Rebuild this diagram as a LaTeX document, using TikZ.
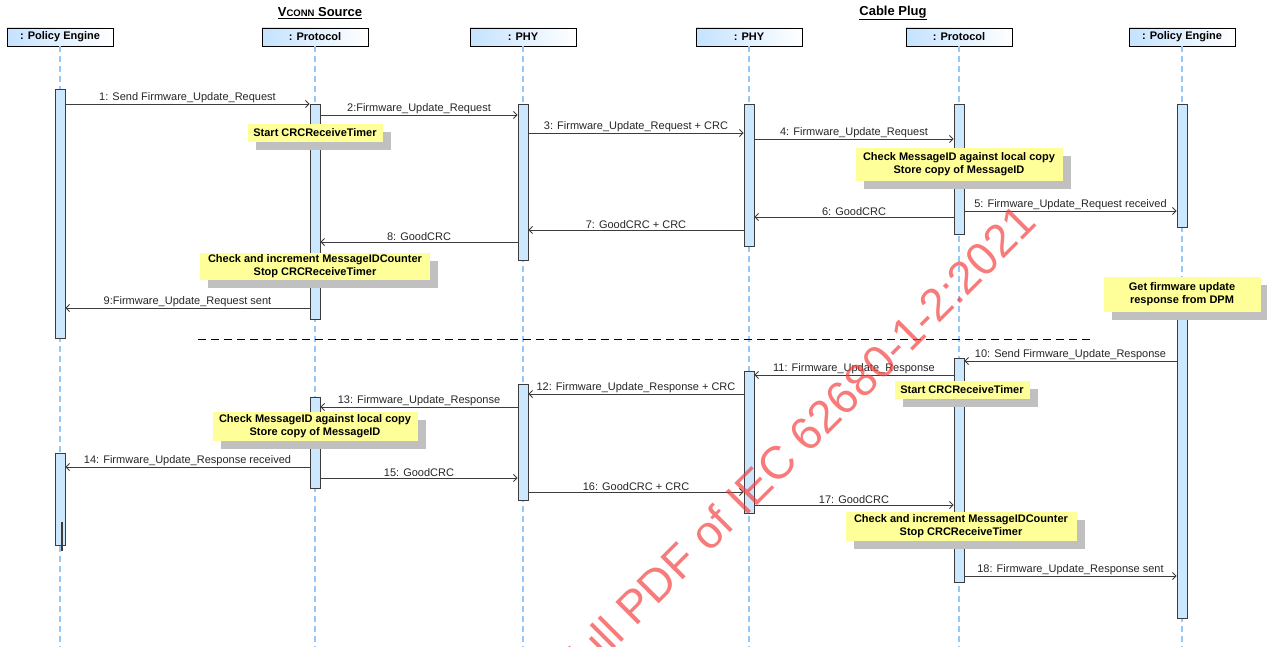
\documentclass[tikz,border=0pt]{standalone}
\usepackage{fontspec}
\setmainfont{Liberation Sans}
\usetikzlibrary{arrows.meta,shadows}
\definecolor{lifeblue}{RGB}{150,200,250}
\definecolor{barblue}{RGB}{204,232,255}
\definecolor{barline}{RGB}{60,60,60}
\definecolor{headblue}{RGB}{196,226,255}
\definecolor{notey}{RGB}{255,255,153}
\definecolor{shadowgray}{RGB}{192,192,192}
\definecolor{msgline}{RGB}{60,60,60}
\definecolor{wmred}{RGB}{245,60,60}
\begin{document}
\begin{tikzpicture}[x=1pt,y=-1pt,
  header/.style={draw=black, line width=0.9pt, left color=headblue, right color=white,
    minimum width=106pt, minimum height=18pt, inner sep=0pt,
    font=\fontsize{11}{11}\selectfont\bfseries},
  grouptitle/.style={font=\fontsize{13}{13}\selectfont\bfseries, inner sep=0pt},
  lifeline/.style={draw=lifeblue, line width=1.4pt, dash pattern=on 6pt off 4pt},
  actbar/.style={draw=barline, fill=barblue, line width=0.9pt, minimum width=10pt,
    inner sep=0pt, anchor=north},
  msg/.style={draw=msgline, line width=0.9pt,
    -{Straight Barb[length=3.5pt,width=7pt,line width=0.8pt]}},
  lbl/.style={above, inner sep=1.2pt, font=\fontsize{11}{11}\selectfont, text=black!85},
  note/.style={fill=notey, align=center, inner xsep=4pt, inner ysep=2pt,
    font=\fontsize{11}{13}\selectfont\bfseries,
    drop shadow={fill=shadowgray, opacity=1, shadow xshift=8pt, shadow yshift=-8pt}},
  separator/.style={draw=black, line width=1pt, dash pattern=on 8pt off 5pt},
  watermark/.style={rotate=45, text=wmred, text opacity=0.68, inner sep=0pt,
    font=\fontsize{46}{46}\selectfont}
]
\useasboundingbox (0,0) rectangle (1267,647);

% group titles
\node[grouptitle] (tvconn) at (320,13) {\underline{V{\fontsize{9.5}{9.5}\selectfont CONN} Source}};
\node[grouptitle] (tcable) at (893,13) {\underline{Cable Plug}};

% participant headers
\node[header] (hpe1) at (60,37)   {: Policy Engine};
\node[header] (hpr1) at (315,37)  {: Protocol};
\node[header] (hph1) at (523,37)  {: PHY};
\node[header] (hph2) at (749,37)  {: PHY};
\node[header] (hpr2) at (959,37)  {: Protocol};
\node[header] (hpe2) at (1182,37) {: Policy Engine};

% lifeline ends
\coordinate (epe1) at (60,647);
\coordinate (epr1) at (315,647);
\coordinate (eph1) at (523,647);
\coordinate (eph2) at (749,647);
\coordinate (epr2) at (959,647);
\coordinate (epe2) at (1182,647);

\foreach \h/\e in {hpe1/epe1,hpr1/epr1,hph1/eph1,hph2/eph2,hpr2/epr2,hpe2/epe2}
  \draw[lifeline] (\h.south) -- (\e);

% activation bars, request phase
\node[actbar, minimum height=249pt] (pe1a) at (60,89)   {};
\node[actbar, minimum height=215pt] (pr1a) at (315,104) {};
\node[actbar, minimum height=156pt] (ph1a) at (523,104) {};
\node[actbar, minimum height=142pt] (ph2a) at (749,104) {};
\node[actbar, minimum height=130pt] (pr2a) at (959,104) {};
\node[actbar, minimum height=123pt] (pe2a) at (1182,104) {};

% activation bars, response phase
\node[actbar, minimum height=320pt] (pe2b) at (1182,298) {};
\node[actbar, minimum height=224pt] (pr2b) at (959,358)  {};
\node[actbar, minimum height=142pt] (ph2b) at (749,371)  {};
\node[actbar, minimum height=116pt] (ph1b) at (523,384)  {};
\node[actbar, minimum height=91pt]  (pr1b) at (315,397)  {};
\node[actbar, minimum height=92pt]  (pe1b) at (60,453)   {};
\coordinate (tick1) at (62,522);
\coordinate (tick2) at (62,551);
\draw[barline, line width=1.1pt] (tick1) -- (tick2);

% phase separator
\coordinate (sepl) at (198,339);
\coordinate (sepr) at (1090,339);
\draw[separator] (sepl) -- (sepr);

% messages, request phase
\draw[msg] (pe1a.east |- 0,104) -- node[lbl] {1: Send Firmware\_Update\_Request} (pr1a.west |- 0,104);
\draw[msg] (pr1a.east |- 0,115) -- node[lbl] {2:Firmware\_Update\_Request} (ph1a.west |- 0,115);
\draw[msg] (ph1a.east |- 0,133) -- node[lbl] {3: Firmware\_Update\_Request + CRC} (ph2a.west |- 0,133);
\draw[msg] (ph2a.east |- 0,139) -- node[lbl] {4: Firmware\_Update\_Request} (pr2a.west |- 0,139);
\draw[msg] (pr2a.east |- 0,211) -- node[lbl] {5: Firmware\_Update\_Request received} (pe2a.west |- 0,211);
\draw[msg] (pr2a.west |- 0,217) -- node[lbl] {6: GoodCRC} (ph2a.east |- 0,217);
\draw[msg] (ph2a.west |- 0,230) -- node[lbl] {7: GoodCRC + CRC} (ph1a.east |- 0,230);
\draw[msg] (ph1a.west |- 0,242) -- node[lbl] {8: GoodCRC} (pr1a.east |- 0,242);
\draw[msg] (pr1a.west |- 0,308) -- node[lbl] {9:Firmware\_Update\_Request sent} (pe1a.east |- 0,308);

% messages, response phase
\draw[msg] (pe2b.west |- 0,361) -- node[lbl] {10: Send Firmware\_Update\_Response} (pr2b.east |- 0,361);
\draw[msg] (pr2b.west |- 0,375) -- node[lbl] {11: Firmware\_Update\_Response} (ph2b.east |- 0,375);
\draw[msg] (ph2b.west |- 0,394) -- node[lbl] {12: Firmware\_Update\_Response + CRC} (ph1b.east |- 0,394);
\draw[msg] (ph1b.west |- 0,407) -- node[lbl] {13: Firmware\_Update\_Response} (pr1b.east |- 0,407);
\draw[msg] (pr1b.west |- 0,467) -- node[lbl] {14: Firmware\_Update\_Response received} (pe1b.east |- 0,467);
\draw[msg] (pr1b.east |- 0,478) -- node[lbl] {15: GoodCRC} (ph1b.west |- 0,478);
\draw[msg] (ph1b.east |- 0,492) -- node[lbl] {16: GoodCRC + CRC} (ph2b.west |- 0,492);
\draw[msg] (ph2b.east |- 0,505) -- node[lbl] {17: GoodCRC} (pr2b.west |- 0,505);
\draw[msg] (pr2b.east |- 0,576) -- node[lbl] {18: Firmware\_Update\_Response sent} (pe2b.west |- 0,576);

% notes
\node[note, minimum width=135pt, minimum height=18pt] (n1) at (315,133) {Start CRCReceiveTimer};
\node[note, minimum width=207pt, minimum height=33pt] (n2) at (959,164.5) {Check MessageID against local copy\\Store copy of MessageID};
\node[note, minimum width=230pt, minimum height=27pt] (n3) at (315,266.5) {Check and increment MessageIDCounter\\Stop CRCReceiveTimer};
\node[note, minimum width=157pt, minimum height=35pt] (n4) at (1182,294.5) {Get firmware update\\response from DPM};
\node[note, minimum width=135pt, minimum height=18pt] (n5) at (962,389.5) {Start CRCReceiveTimer};
\node[note, minimum width=205pt, minimum height=29pt] (n6) at (315,426.5) {Check MessageID against local copy\\Store copy of MessageID};
\node[note, minimum width=231pt, minimum height=29pt] (n7) at (961,526.5) {Check and increment MessageIDCounter\\Stop CRCReceiveTimer};

% stamp across the sheet, running off its lower edge
\begin{scope}
  \clip (0,0) rectangle (1267,647);
  \node[watermark] (wm) at (800,440) {full PDF of IEC 62680-1-2:2021};
\end{scope}
\end{tikzpicture}
\end{document}
